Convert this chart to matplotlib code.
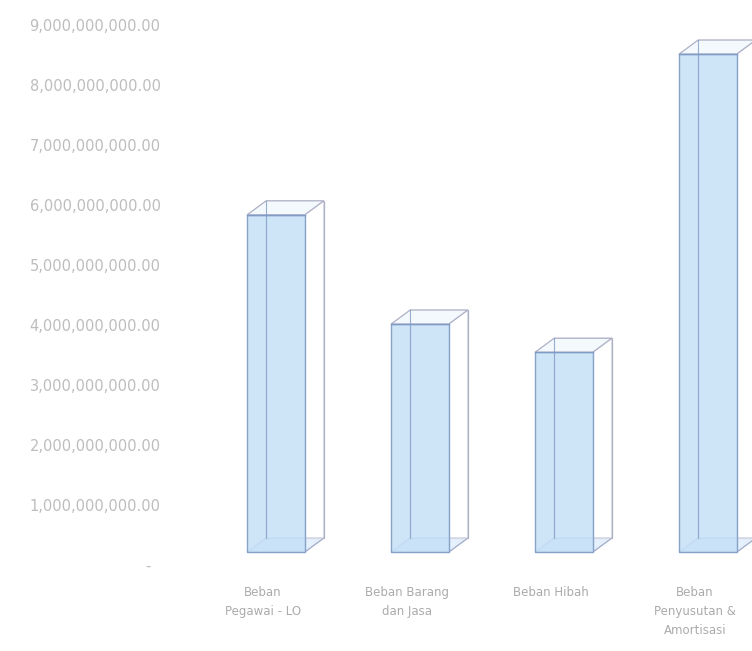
import numpy as np
import matplotlib.pyplot as plt
from matplotlib.patches import Rectangle, Polygon
from matplotlib.transforms import ScaledTranslation
from matplotlib.ticker import FuncFormatter

# data beban (rupiah)
kategori = ['Beban\nPegawai - LO', 'Beban Barang\ndan Jasa', 'Beban Hibah',
            'Beban\nPenyusutan &\nAmortisasi']
nilai = [5.62e9, 3.80e9, 3.33e9, 8.30e9]
yticks = np.arange(0, 9e9 + 1, 1e9)

fig = plt.figure(figsize=(7.52, 6.51), dpi=100)
ax = fig.add_axes([180 / 752, 86 / 651, 1 - 180 / 752, 540 / 651])
ax.set_xlim(-0.576, 3.396)
ax.set_ylim(0, 9e9)

# efek 3D: kotak digeser sedikit ke atas/kanan, kedalaman dalam satuan data
tr = ax.transData + ScaledTranslation(0.13, 0.13, fig.dpi_scale_trans)
lebar = 0.40
dx, dy = 0.132, 0.233e9
biru = '#c9e2f7'
garis = '#7f9bc6'
garis_blk = '#aeb0c6'

for i, h in enumerate(nilai):
    x0, x1 = i - lebar / 2, i + lebar / 2
    # alas
    ax.add_patch(Polygon([(x0, 0), (x1, 0), (x1 + dx, dy), (x0 + dx, dy)],
                         closed=True, facecolor=biru, edgecolor=garis, lw=0.9, transform=tr))
    # sisi belakang
    ax.add_patch(Rectangle((x0 + dx, dy), lebar, h, facecolor='none',
                           edgecolor=garis_blk, lw=0.9, transform=tr))
    # sisi kanan
    ax.add_patch(Polygon([(x1, 0), (x1 + dx, dy), (x1 + dx, h + dy), (x1, h)],
                         closed=True, facecolor='white', alpha=0.5, edgecolor=garis_blk,
                         lw=0.9, transform=tr))
    # sisi depan
    ax.add_patch(Rectangle((x0, 0), lebar, h, facecolor=biru, alpha=0.9,
                           edgecolor=garis, lw=1.0, transform=tr))
    # garis tepi kiri belakang terlihat tembus
    ax.plot([x0 + dx, x0 + dx], [dy, h + dy], color=garis, lw=0.8, alpha=0.8, transform=tr)
    # tutup atas
    ax.add_patch(Polygon([(x0, h), (x1, h), (x1 + dx, h + dy), (x0 + dx, h + dy)],
                         closed=True, facecolor='#f4f9fd', edgecolor=garis_blk, lw=0.9,
                         transform=tr))
    ax.plot([x0, x1], [h, h], color=garis, lw=1.0, transform=tr)

ax.set_yticks(yticks)
ax.yaxis.set_major_formatter(FuncFormatter(lambda v, p: '-  ' if v == 0 else f'{v:,.2f}'))
ax.set_xticks(np.arange(len(kategori)))
ax.set_xticklabels(kategori, multialignment='center', linespacing=1.6)

ax.tick_params(axis='y', length=0, pad=14, labelsize=10.5, labelcolor='#bdbdbd')
ax.tick_params(axis='x', length=0, pad=15, labelsize=8.5, labelcolor='#ababab')
for s in ax.spines.values():
    s.set_visible(False)

fig.savefig('out.png', dpi=100)
